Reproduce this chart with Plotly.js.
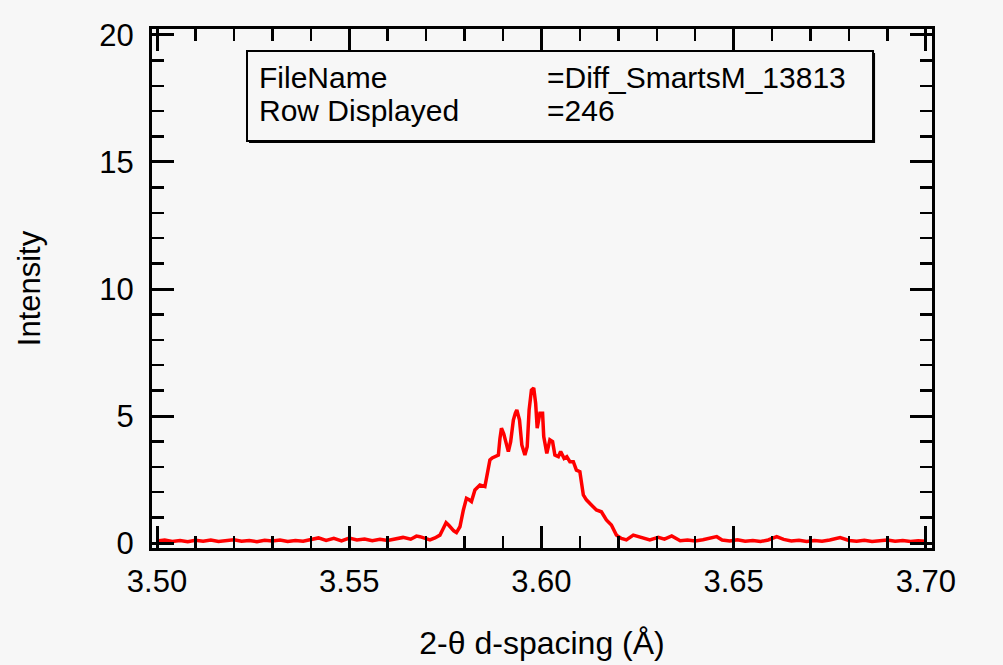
<!DOCTYPE html>
<html>
<head>
<meta charset="utf-8">
<script src="https://cdn.plot.ly/plotly-3.0.1.min.js"></script>
<style>
html,body{margin:0;padding:0;background:#f7f7f7;}
#chart{width:1003px;height:665px;}
</style>
</head>
<body>
<div id="chart"></div>
<script>
// d-spacing (Å)
const dSpacing = [
3.500,3.502,3.504,3.506,3.508,3.510,3.512,3.514,3.516,3.518,
3.520,3.522,3.524,3.526,3.528,3.530,3.532,3.534,3.536,3.538,
3.540,3.542,3.544,3.546,3.548,3.550,3.552,3.554,3.556,3.558,
3.560,3.562,3.564,3.566,3.5675,3.5684,3.5697,3.5710,3.5723,3.5736,
3.5744,3.5752,3.5759,3.5766,3.5772,3.5779,3.5788,3.5797,3.5805,3.5812,
3.5818,3.5827,3.5834,3.5840,3.5853,3.5857,3.5862,3.5866,3.5872,3.5879,
3.5888,3.5892,3.5896,3.5902,3.5908,3.5914,3.5920,3.5927,3.5932,3.5936,
3.5943,3.5949,3.5957,3.5963,3.5968,3.5974,3.5980,3.5985,3.5989,3.5996,
3.6003,3.6006,3.6014,3.6022,3.6029,3.6035,3.6044,3.6050,3.6059,3.6066,
3.6074,3.6083,3.6091,3.6100,3.6109,3.6117,3.6130,3.6143,3.6156,3.6169,
3.6182,3.6195,3.6208,3.6221,3.6239,3.6252,3.6270,3.6282,3.6304,3.6320,
3.6339,3.6361,3.6380,3.6400,3.6420,3.6440,3.6456,3.6470,3.6490,3.6510,
3.6530,3.6550,3.6570,3.6590,3.6612,3.6630,3.6650,3.6670,3.6690,3.6710,
3.6730,3.6750,3.6777,3.6800,3.6820,3.6840,3.6860,3.6880,3.6900,3.6920,
3.6940,3.6960,3.6980,3.7000
];
// Intensity
const intensity = [
0.08,0.12,0.06,0.10,0.05,0.11,0.07,0.12,0.06,0.09,
0.13,0.07,0.10,0.05,0.11,0.08,0.12,0.06,0.10,0.07,
0.12,0.20,0.10,0.18,0.08,0.19,0.12,0.16,0.09,0.15,
0.10,0.17,0.22,0.15,0.27,0.25,0.18,0.12,0.20,0.31,
0.55,0.80,0.70,0.58,0.48,0.41,0.64,1.30,1.76,1.70,
1.63,2.09,2.20,2.28,2.22,2.61,3.00,3.27,3.35,3.40,
3.46,4.10,4.52,4.30,3.99,3.60,3.99,4.84,5.10,5.24,
4.84,3.86,3.46,3.79,5.24,6.02,6.10,5.50,4.52,5.11,
5.11,4.19,3.53,4.06,3.99,3.46,3.40,3.60,3.33,3.40,
3.20,3.20,2.87,2.81,1.89,1.70,1.50,1.30,1.23,0.91,
0.71,0.31,0.18,0.12,0.31,0.25,0.14,0.12,0.22,0.15,
0.28,0.09,0.12,0.08,0.13,0.18,0.25,0.12,0.08,0.13,
0.07,0.10,0.06,0.12,0.25,0.14,0.08,0.11,0.06,0.10,
0.07,0.12,0.21,0.10,0.07,0.11,0.06,0.09,0.12,0.07,
0.10,0.06,0.09,0.07
];
const xTickVals = [3.50, 3.55, 3.60, 3.65, 3.70];
const xTickText = ["3.50", "3.55", "3.60", "3.65", "3.70"];
const yTickVals = [0, 5, 10, 15, 20];
const yTickText = ["0", "5", "10", "15", "20"];
const infoLabels = ["FileName", "Row Displayed"];
const infoValues = ["=Diff_SmartsM_13813", "=246"];

const FONT = "Liberation Sans, Arial, sans-serif";
const BG = "#f7f7f7";

const trace = {
  x: dSpacing, y: intensity, type: "scatter", mode: "lines",
  line: {color: "#ff0000", width: 3.5}, hoverinfo: "skip"
};

const axisCommon = {
  showgrid: false, zeroline: false, showline: true, linecolor: "#000", linewidth: 3,
  mirror: "allticks", ticks: "inside", ticklen: 22, tickwidth: 3, tickcolor: "#000",
  tickfont: {family: FONT, size: 31, color: "#000"}, layer: "above traces"
};

const annotations = [];
const rowY = [0.9075, 0.8439];
infoLabels.forEach((t, i) => {
  annotations.push({xref: "paper", yref: "paper", x: 0.1346, y: rowY[i], xanchor: "left", yanchor: "middle",
    text: t, showarrow: false, font: {family: FONT, size: 30, color: "#000"}});
  annotations.push({xref: "paper", yref: "paper", x: 0.5038, y: rowY[i], xanchor: "left", yanchor: "middle",
    text: infoValues[i], showarrow: false, font: {family: FONT, size: 30, color: "#000"}});
});

const layout = {
  width: 1003, height: 665,
  paper_bgcolor: BG, plot_bgcolor: BG,
  margin: {l: 152, r: 71, t: 29, b: 117},
  showlegend: false,
  font: {family: FONT, color: "#000"},
  xaxis: Object.assign({}, axisCommon, {
    range: [3.4987, 3.7016], tickvals: xTickVals, ticktext: xTickText, ticklabelstandoff: 4,
    minor: {dtick: 0.01, ticks: "inside", ticklen: 12, tickwidth: 2.5, tickcolor: "#000", showgrid: false},
    title: {text: "2-θ d-spacing (Å)", font: {family: FONT, size: 32, color: "#000"}, standoff: 34}
  }),
  yaxis: Object.assign({}, axisCommon, {
    range: [-0.197, 20.236], tickvals: yTickVals, ticktext: yTickText, ticklabelstandoff: 9,
    minor: {dtick: 1, ticks: "inside", ticklen: 12, tickwidth: 2.5, tickcolor: "#000", showgrid: false},
    title: {text: "Intensity", font: {family: FONT, size: 31, color: "#000"}, standoff: 50}
  }),
  shapes: [
    {type: "rect", xref: "paper", yref: "paper", x0: 0.1244, x1: 0.9270, y0: 0.7804, y1: 0.9538,
     line: {width: 0}, fillcolor: "#000", layer: "above"},
    {type: "rect", xref: "paper", yref: "paper", x0: 0.1218, x1: 0.9244, y0: 0.7842, y1: 0.9576,
     line: {width: 2, color: "#000"}, fillcolor: BG, layer: "above"}
  ],
  annotations: annotations
};

Plotly.newPlot("chart", [trace], layout, {displayModeBar: false, staticPlot: true});
</script>
</body>
</html>
